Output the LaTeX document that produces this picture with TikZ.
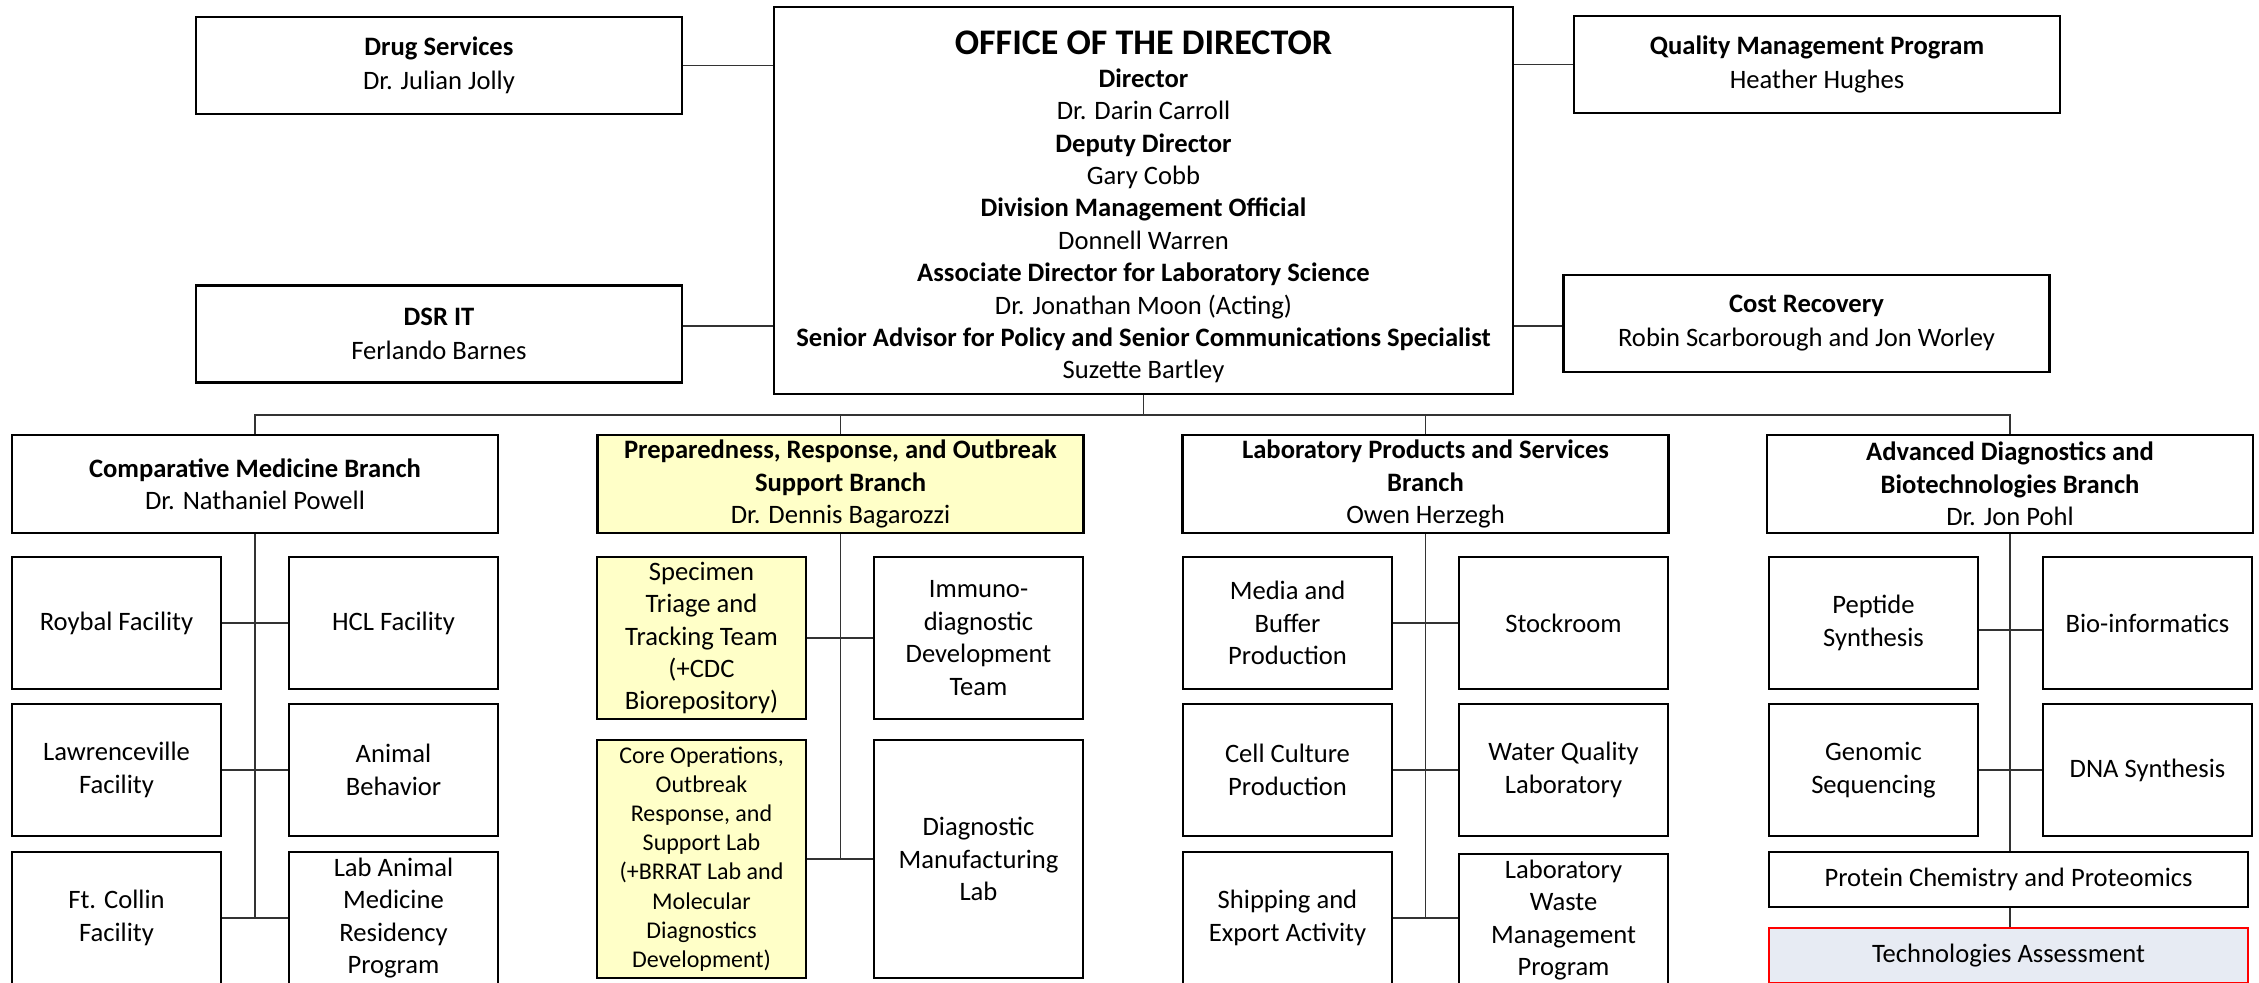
\documentclass[tikz,border=0pt]{standalone}
\usepackage{fontspec}
\setmainfont{Carlito}
\newcommand\fsmain{\fontsize{13.3pt}{16.2pt}\selectfont}
\newcommand\fstop{\fontsize{13.3pt}{17pt}\selectfont}
\newcommand\fssmall{\fontsize{12pt}{14.6pt}\selectfont}
\newcommand\fstitle{\fontsize{18pt}{18pt}\selectfont}
\definecolor{paleyellow}{HTML}{FFFFC8}
\definecolor{palesteel}{HTML}{E7EBF3}
\begin{document}
\begin{tikzpicture}[x=0.5pt,y=-0.5pt,
  box/.style={draw=black,line width=1.1pt,fill=white,align=center,inner sep=0pt,font=\fsmain},
  topbox/.style={box,minimum width=243pt,minimum height=48.5pt,font=\fstop},
  branch/.style={box,minimum width=243pt,minimum height=49pt},
  sub/.style={box,minimum width=104.5pt,minimum height=66pt},
  hilite/.style={fill=paleyellow},
  wide/.style={box,minimum width=239.5pt,minimum height=27.5pt},
  wire/.style={draw=black!80,line width=0.7pt}]
\useasboundingbox (0,0) rectangle (2259,982);
\clip (0,0) rectangle (2259,982);

% ---- office of the director and staff offices ----
\node[box,minimum width=369.5pt,minimum height=193.5pt] (office) at (1143.5,200.5) {};
\node[align=center,inner sep=0pt,font=\fsmain] (officetext) at (1143.5,207)
  {{\fstitle\bfseries OFFICE OF THE DIRECTOR}\\[0.3pt]
   \textbf{Director}\\Dr. Darin Carroll\\
   \textbf{Deputy Director}\\Gary Cobb\\
   \textbf{Division Management Official}\\Donnell Warren\\
   \textbf{Associate Director for Laboratory Science}\\Dr. Jonathan Moon (Acting)\\
   \textbf{Senior Advisor for Policy and Senior Communications Specialist}\\Suzette Bartley};
\node[topbox] (drug) at (439,65.5) {\textbf{Drug Services}\\Dr. Julian Jolly};
\node[topbox] (dsrit) at (439,334) {\textbf{DSR IT}\\Ferlando Barnes};
\node[topbox] (qmp) at (1817,64.5) {\textbf{Quality Management Program}\\Heather Hughes};
\node[topbox] (cost) at (1806.5,323.5) {\textbf{Cost Recovery}\\Robin Scarborough and Jon Worley};

\draw[wire] (drug.east) -- (drug.east -| office.west);
\draw[wire] (qmp.west) -- (qmp.west -| office.east);
\draw[wire] (dsrit.east |- 0,326) -- (office.west |- 0,326);
\draw[wire] (cost.west |- 0,326) -- (office.east |- 0,326);

% ---- branches ----
\node[branch] (cmb) at (255,484) {\textbf{Comparative Medicine Branch}\\Dr. Nathaniel Powell};
\node[branch,hilite] (prb) at (840.5,484) {\textbf{Preparedness, Response, and Outbreak}\\\textbf{Support Branch}\\Dr. Dennis Bagarozzi};
\node[branch] (lpb) at (1425.5,484) {\textbf{Laboratory Products and Services}\\\textbf{Branch}\\Owen Herzegh};
\node[branch] (adb) at (2010,484) {\textbf{Advanced Diagnostics and}\\\textbf{Biotechnologies Branch}\\Dr. Jon Pohl};

\coordinate (bus) at (1143.5,415);
\draw[wire] (office.south) -- (bus);
\draw[wire] (cmb.north) -- (cmb.north |- bus) -- (adb.north |- bus) -- (adb.north);
\draw[wire] (prb.north) -- (prb.north |- bus);
\draw[wire] (lpb.north) -- (lpb.north |- bus);

% ---- Comparative Medicine Branch ----
\node[sub] (roybal) at (116.5,623) {Roybal Facility};
\node[sub] (hcl) at (393.5,623) {HCL Facility};
\node[sub] (lawr) at (116.5,770) {Lawrenceville\\Facility};
\node[sub] (anim) at (393.5,770) {Animal\\Behavior};
\node[sub] (ftc) at (116.5,918) {Ft. Collin\\Facility};
\node[sub] (lamr) at (393.5,918) {Lab Animal\\Medicine\\Residency\\Program};
\draw[wire] (cmb.south) -- (cmb.south |- ftc.east);
\draw[wire] (roybal.east) -- (hcl.west);
\draw[wire] (lawr.east) -- (anim.west);
\draw[wire] (ftc.east) -- (lamr.west);

% ---- Preparedness, Response, and Outbreak Support Branch ----
\node[sub,hilite,minimum height=81pt] (stt) at (701.5,638) {Specimen\\Triage and\\Tracking Team\\(+CDC\\Biorepository)};
\node[sub,minimum height=81pt] (immuno) at (978.5,638) {Immuno-\\diagnostic\\Development\\Team};
\node[sub,hilite,minimum height=119pt,font=\fssmall] (core) at (701.5,859)
  {Core Operations,\\Outbreak\\Response, and\\Support Lab\\(+BRRAT Lab and\\Molecular\\Diagnostics\\Development)};
\node[sub,minimum height=119pt] (dml) at (978.5,859) {Diagnostic\\Manufacturing\\Lab};
\draw[wire] (prb.south) -- (prb.south |- core.east);
\draw[wire] (stt.east) -- (immuno.west);
\draw[wire] (core.east) -- (dml.west);

% ---- Laboratory Products and Services Branch ----
\node[sub] (media) at (1287.5,623) {Media and\\Buffer\\Production};
\node[sub] (stock) at (1563.5,623) {Stockroom};
\node[sub] (cell) at (1287.5,770) {Cell Culture\\Production};
\node[sub] (water) at (1563.5,770) {Water Quality\\Laboratory};
\node[sub] (ship) at (1287.5,918) {Shipping and\\Export Activity};
\node[sub] (waste) at (1563.5,920) {Laboratory\\Waste\\Management\\Program};
\draw[wire] (lpb.south) -- (lpb.south |- ship.east);
\draw[wire] (media.east) -- (stock.west);
\draw[wire] (cell.east) -- (water.west);
\draw[wire] (ship.east) -- (ship.east -| waste.west);

% ---- Advanced Diagnostics and Biotechnologies Branch ----
\node[sub] (pept) at (1873.5,623) {Peptide\\Synthesis};
\node[sub] (bioinf) at (2147.5,623) {Bio-informatics};
\node[sub] (genom) at (1873.5,770) {Genomic\\Sequencing};
\node[sub] (dna) at (2147.5,770) {DNA Synthesis};
\node[wide] (protein) at (2008.5,879.5) {Protein Chemistry and Proteomics};
\node[wide,draw=red,fill=palesteel] (techassess) at (2008.5,955.5) {Technologies Assessment};
\draw[wire] (adb.south) -- (adb.south |- protein.north);
\draw[wire] (pept.east |- 0,630) -- (bioinf.west |- 0,630);
\draw[wire] (genom.east) -- (dna.west);
\draw[wire] (protein.south -| adb.south) -- (techassess.north -| adb.south);
\end{tikzpicture}
\end{document}
